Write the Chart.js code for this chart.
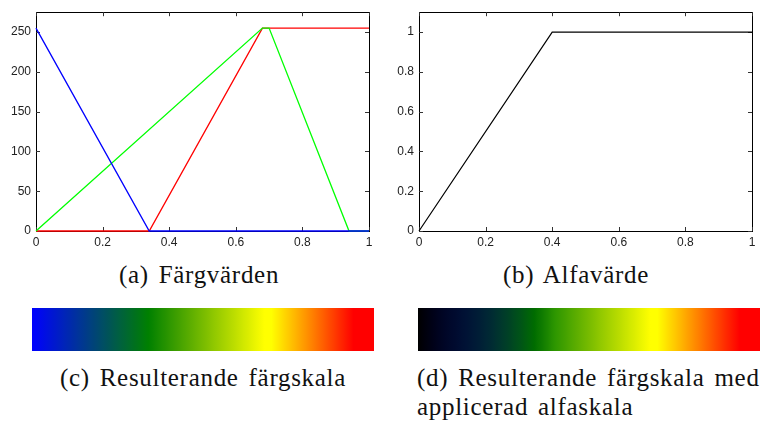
<!DOCTYPE html>
<html>
<head>
<meta charset="utf-8">
<script src="https://cdn.jsdelivr.net/npm/chart.js@4.4.1/dist/chart.umd.min.js"></script>
<style>
  body { margin: 0; background: #fff; width: 763px; height: 426px; position: relative; overflow: hidden; }
  .box { position: absolute; }
  .cap { position: absolute; font-family: "Liberation Serif", "Times New Roman", serif; font-size: 25px; line-height: 28px;
         letter-spacing: 0.7px; word-spacing: 3px; color: #111; white-space: nowrap; }
</style>
</head>
<body>
<div class="box" style="left:0;top:0;width:380px;height:250px"><canvas id="rgb"></canvas></div>
<div class="box" style="left:380px;top:0;width:383px;height:250px"><canvas id="alpha"></canvas></div>
<div class="box" style="left:32px;top:308px;width:342px;height:43px"><canvas id="bar1"></canvas></div>
<div class="box" style="left:418px;top:308px;width:342px;height:43px"><canvas id="bar2"></canvas></div>

<div class="cap" style="left:0;width:398px;top:261px;text-align:center">(a) Färgvärden</div>
<div class="cap" style="left:376px;width:400px;top:261px;text-align:center">(b) Alfavärde</div>
<div class="cap" style="left:0;width:406px;top:364px;text-align:center">(c) Resulterande färgskala</div>
<div class="cap" style="left:417px;top:364px">(d) Resulterande färgskala med</div>
<div class="cap" style="left:417px;top:393px">applicerad alfaskala</div>

<script>
// colour channel curves (0..255)
const redX = [0, 0.34, 0.68, 1];
const redY = [0, 0, 255, 255];
const greenX = [0, 0.68, 0.70, 0.94, 1];
const greenY = [0, 255, 255, 0, 0];
const blueX = [0, 0.34, 1];
const blueY = [255, 0, 0];
// alpha curve
const alphaX = [0, 0.4, 1];
const alphaY = [0, 1, 1];

const xTicks = [0, 0.2, 0.4, 0.6, 0.8, 1];

function pts(xs, ys) {
    return xs.map((x, i) => ({x: x, y: ys[i]}));
}

function lerp(xs, ys, t) {
    for (let i = 1; i < xs.length; i++) {
        if (t <= xs[i]) {
            const f = (t - xs[i - 1]) / (xs[i] - xs[i - 1]);
            return ys[i - 1] + f * (ys[i] - ys[i - 1]);
        }
    }
    return ys[ys.length - 1];
}

// matlab style frame + inward ticks
const framePlugin = {
    id: 'frame',
    beforeDatasetsDraw(chart) {
        const c = chart.ctx, a = chart.chartArea;
        const xs = chart.scales.x, ys = chart.scales.y;
        c.save();
        c.strokeStyle = '#000';
        c.lineWidth = 1;
        c.strokeRect(Math.round(a.left) + 0.5, Math.round(a.top) + 0.5,
            Math.round(a.right - a.left), Math.round(a.bottom - a.top));
        c.strokeStyle = '#333';
        c.beginPath();
        xs.ticks.forEach((t, i) => {
            const px = Math.round(xs.getPixelForTick(i)) + 0.5;
            c.moveTo(px, a.bottom); c.lineTo(px, a.bottom - 4);
            c.moveTo(px, a.top); c.lineTo(px, a.top + 4);
        });
        ys.ticks.forEach((t, i) => {
            const py = Math.round(ys.getPixelForTick(i)) + 0.5;
            c.moveTo(a.left, py); c.lineTo(a.left + 4, py);
            c.moveTo(a.right, py); c.lineTo(a.right - 4, py);
        });
        c.stroke();
        c.restore();
    }
};

Chart.defaults.font.family = '"Liberation Sans", Arial, sans-serif';
Chart.defaults.font.size = 12;
Chart.defaults.color = '#222';

function lineOptions(yMax, yStep, yWidth, fmt) {
    return {
        responsive: true,
        maintainAspectRatio: false,
        animation: false,
        layout: { padding: { top: 8, right: 11, left: 0, bottom: 0 } },
        plugins: { legend: { display: false }, tooltip: { enabled: false } },
        elements: { point: { radius: 0 }, line: { tension: 0 } },
        scales: {
            x: {
                type: 'linear', min: 0, max: 1,
                afterFit(s) { s.height = 19; },
                afterBuildTicks(s) { s.ticks = xTicks.map(v => ({value: v})); },
                ticks: { padding: 4, callback: v => String(+v.toFixed(1)) },
                grid: { display: false, drawTicks: false },
                border: { display: false }
            },
            y: {
                min: 0, max: yMax,
                afterFit(s) { s.width = yWidth; },
                ticks: { stepSize: yStep, includeBounds: false, padding: 5, callback: fmt },
                grid: { display: false, drawTicks: false },
                border: { display: false }
            }
        }
    };
}

new Chart(document.getElementById('rgb'), {
    type: 'line',
    data: {
        datasets: [
            { data: pts(blueX, blueY), borderColor: '#0000ff', borderWidth: 1.3, clip: false },
            { data: pts(greenX, greenY), borderColor: '#00ff00', borderWidth: 1.3, clip: false },
            { data: pts(redX, redY), borderColor: '#ff0000', borderWidth: 1.3, clip: false }
        ]
    },
    options: lineOptions(275, 50, 36, v => String(v)),
    plugins: [framePlugin]
});

new Chart(document.getElementById('alpha'), {
    type: 'line',
    data: {
        datasets: [
            { data: pts(alphaX, alphaY), borderColor: '#000', borderWidth: 1.2, clip: false }
        ]
    },
    options: lineOptions(1.1, 0.2, 39, v => String(+v.toFixed(1))),
    plugins: [framePlugin]
});

// colour bars
function barGradient(withAlpha) {
    return function (ctx) {
        const chart = ctx.chart, a = chart.chartArea;
        if (!a) return '#000';
        const g = chart.ctx.createLinearGradient(a.left, 0, a.right, 0);
        for (let i = 0; i <= 100; i++) {
            const t = i / 100;
            const k = withAlpha ? lerp(alphaX, alphaY, t) : 1;
            const r = Math.round(lerp(redX, redY, t) * k);
            const gr = Math.round(lerp(greenX, greenY, t) * k);
            const b = Math.round(lerp(blueX, blueY, t) * k);
            g.addColorStop(t, 'rgb(' + r + ',' + gr + ',' + b + ')');
        }
        return g;
    };
}

function colorBar(id, withAlpha) {
    new Chart(document.getElementById(id), {
        type: 'bar',
        data: {
            labels: [''],
            datasets: [{
                data: [[0, 1]],
                backgroundColor: barGradient(withAlpha),
                borderWidth: 0,
                barPercentage: 1,
                categoryPercentage: 1
            }]
        },
        options: {
            indexAxis: 'y',
            responsive: true,
            maintainAspectRatio: false,
            animation: false,
            layout: { padding: 0 },
            plugins: { legend: { display: false }, tooltip: { enabled: false } },
            scales: {
                x: { type: 'linear', min: 0, max: 1, display: false },
                y: { display: false }
            }
        }
    });
}

colorBar('bar1', false);
colorBar('bar2', true);
</script>
</body>
</html>
